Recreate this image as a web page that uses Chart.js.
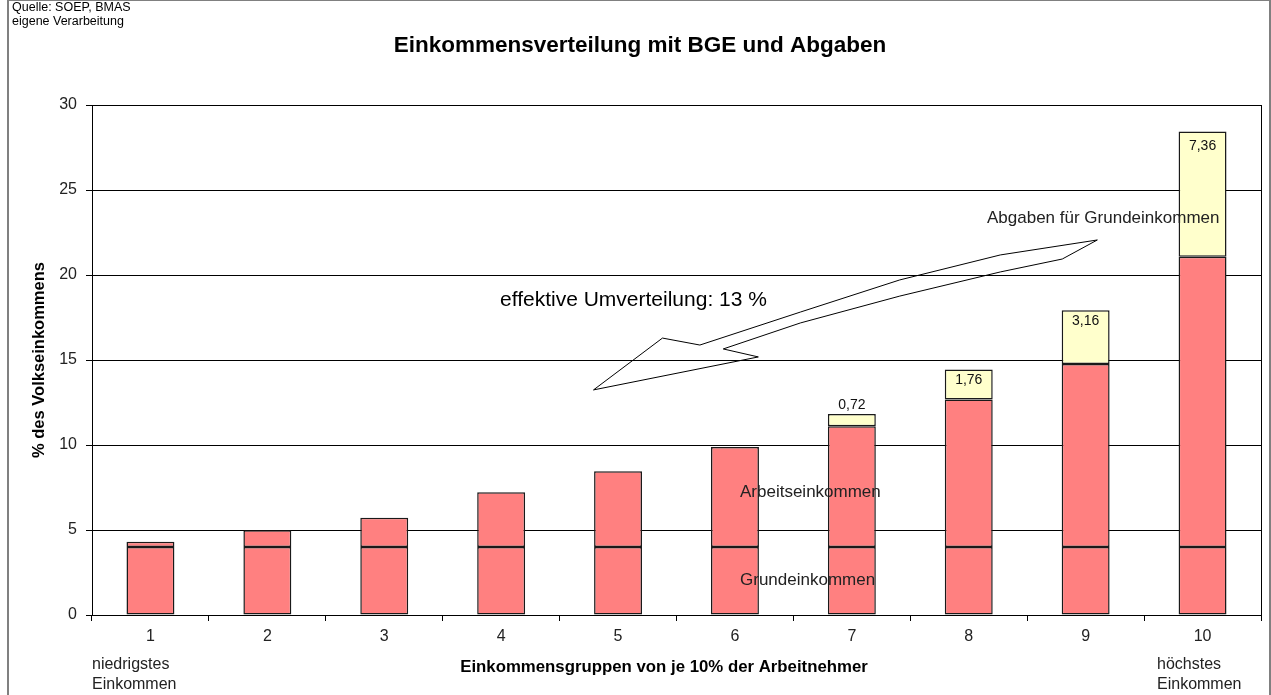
<!DOCTYPE html>
<html>
<head>
<meta charset="utf-8">
<script src="https://cdn.jsdelivr.net/npm/chart.js@4.4.0/dist/chart.umd.min.js"></script>
<style>
  html, body { margin: 0; padding: 0; background: #fff; }
</style>
</head>
<body>
<canvas id="myChart" width="1271" height="695"></canvas>
<script>
const gruppen = ["1", "2", "3", "4", "5", "6", "7", "8", "9", "10"];
const grundeinkommen = [4, 4, 4, 4, 4, 4, 4, 4, 4, 4];
const arbeitseinkommen = [0.31, 0.98, 1.72, 3.22, 4.45, 5.88, 7.1, 8.68, 10.76, 17.08];
const abgaben = [0, 0, 0, 0, 0, 0, 0.72, 1.76, 3.16, 7.36];
const yTicks = [0, 5, 10, 15, 20, 25, 30];

// Umriss des Pfeils in Datenkoordinaten (Gruppenindex, % des Volkseinkommens)
const pfeilX = [8.10, 7.27, 6.41, 5.56, 4.70, 4.38, 3.79, 5.20, 4.90, 5.56, 6.41, 7.27, 7.80];
const pfeilY = [22.06, 21.18, 19.71, 17.82, 15.88, 16.29, 13.24, 15.18, 15.65, 17.18, 18.76, 20.18, 20.94];

const schrift = "'Liberation Sans', Arial, sans-serif";
const canvas = document.getElementById("myChart");
const ctx = canvas.getContext("2d");

const extras = {
  id: "extras",
  beforeDraw(chart) {
    const c = chart.ctx;
    c.save();
    c.fillStyle = "#fff";
    c.fillRect(0, 0, chart.width, chart.height);
    c.restore();
  },
  afterDatasetsDraw(chart) {
    const c = chart.ctx;
    const { chartArea, scales } = chart;
    c.save();

    // rechter Rand der Zeichenfläche
    c.strokeStyle = "#000";
    c.lineWidth = 1;
    c.beginPath();
    c.moveTo(Math.round(chartArea.right) + 0.5, chartArea.top);
    c.lineTo(Math.round(chartArea.right) + 0.5, chartArea.bottom);
    c.stroke();

    // Werte der Abgaben
    const meta = chart.getDatasetMeta(2);
    c.fillStyle = "#111";
    c.font = "14px " + schrift;
    c.textAlign = "center";
    c.textBaseline = "middle";
    meta.data.forEach((bar, i) => {
      if (!abgaben[i]) return;
      const txt = abgaben[i].toFixed(2).replace(".", ",");
      const h = bar.base - bar.y;
      const y = h < 16 ? bar.y - 9 : (h > 60 ? bar.y + 15 : bar.y + 11);
      c.fillText(txt, bar.x, y);
    });

    // Pfeil
    c.strokeStyle = "#000";
    c.lineWidth = 1;
    c.beginPath();
    pfeilX.forEach((v, i) => {
      const px = scales.x.getPixelForValue(v);
      const py = scales.y.getPixelForValue(pfeilY[i]);
      if (i === 0) c.moveTo(px, py); else c.lineTo(px, py);
    });
    c.closePath();
    c.stroke();

    // Beschriftungen im Diagramm
    c.fillStyle = "#000";
    c.textAlign = "left";
    c.font = "21px " + schrift;
    c.fillText("effektive Umverteilung: 13 %", 500, 300);
    c.font = "17px " + schrift;
    c.fillStyle = "#222";
    c.fillText("Abgaben für Grundeinkommen", 987, 218);
    c.fillText("Arbeitseinkommen", 740, 492);
    c.fillText("Grundeinkommen", 740, 580);
    c.restore();
  },
  afterDraw(chart) {
    const c = chart.ctx;
    c.save();
    // Rahmen
    c.strokeStyle = "#808080";
    c.lineWidth = 2;
    c.strokeRect(8, 0, 1262, 710);

    c.fillStyle = "#000";
    c.textBaseline = "middle";
    c.textAlign = "left";
    c.font = "12.5px " + schrift;
    c.fillText("Quelle: SOEP, BMAS", 12, 8);
    c.fillText("eigene Verarbeitung", 12, 22);

    c.textAlign = "center";
    c.font = "bold 22.5px " + schrift;
    c.fillText("Einkommensverteilung mit BGE und Abgaben", 640, 46);

    c.font = "bold 16.8px " + schrift;
    c.fillText("Einkommensgruppen von je 10% der Arbeitnehmer", 664, 667);

    c.textAlign = "left";
    c.font = "16px " + schrift;
    c.fillStyle = "#222";
    c.fillText("niedrigstes", 92, 665);
    c.fillText("Einkommen", 92, 685);
    c.fillText("höchstes", 1157, 665);
    c.fillText("Einkommen", 1157, 685);
    c.restore();
  }
};

const myChart = new Chart(ctx, {
  type: "bar",
  data: {
    labels: gruppen,
    datasets: [
      {
        label: "Grundeinkommen",
        data: grundeinkommen,
        backgroundColor: "#FF8080",
        borderColor: "#1a1a1a",
        borderWidth: 1.5,
        borderSkipped: false
      },
      {
        label: "Arbeitseinkommen",
        data: arbeitseinkommen,
        backgroundColor: "#FF8080",
        borderColor: "#1a1a1a",
        borderWidth: 1.5,
        borderSkipped: false
      },
      {
        label: "Abgaben für Grundeinkommen",
        data: abgaben,
        backgroundColor: "#FFFFCC",
        borderColor: "#1a1a1a",
        borderWidth: (c) => (abgaben[c.dataIndex] ? 1.5 : 0),
        borderSkipped: false
      }
    ]
  },
  options: {
    responsive: false,
    animation: false,
    devicePixelRatio: 1,
    layout: { padding: { left: 26, top: 105, right: 10, bottom: 50 } },
    plugins: {
      legend: { display: false },
      title: { display: false },
      tooltip: { enabled: false }
    },
    datasets: { bar: { categoryPercentage: 1, barPercentage: 0.41 } },
    scales: {
      x: {
        stacked: true,
        grid: { drawOnChartArea: false, color: "#000", tickLength: 6, offset: true },
        border: { color: "#000", width: 1 },
        ticks: { color: "#222", font: { family: schrift, size: 16 }, padding: 6, maxRotation: 0 },
        afterFit(scale) { scale.height = 30; }
      },
      y: {
        stacked: true,
        min: 0,
        max: 30,
        afterBuildTicks(scale) { scale.ticks = yTicks.map(v => ({ value: v })); },
        grid: { color: "#000", tickLength: 6 },
        border: { color: "#000", width: 1 },
        ticks: { color: "#222", font: { family: schrift, size: 16 }, padding: 9 },
        title: {
          display: true,
          text: "% des Volkseinkommens",
          color: "#000",
          font: { family: schrift, size: 16.5, weight: "bold" }
        },
        afterFit(scale) { scale.width = 66; }
      }
    }
  },
  plugins: [extras]
});
</script>
</body>
</html>
